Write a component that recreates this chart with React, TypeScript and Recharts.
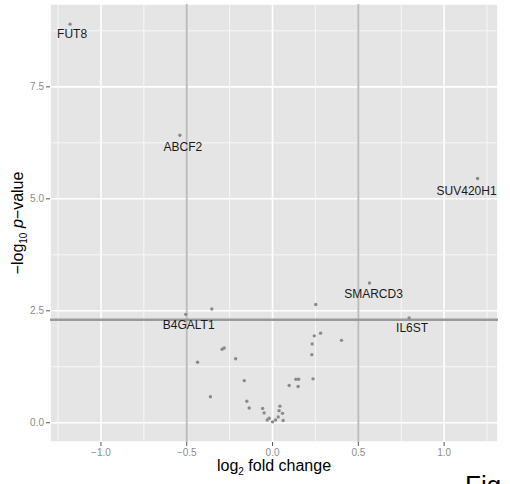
import type { FC } from 'react';
import {
    ScatterChart, Scatter, XAxis, YAxis, CartesianGrid, ReferenceLine
} from 'recharts';

// volcano plot data: log2 fold change vs -log10 p-value
const GENE = [
    'FUT8', 'ABCF2', 'SUV420H1', 'B4GALT1', 'SMARCD3', 'IL6ST',
    '', '', '', '', '', '', '', '', '', '', '', '', '', '', '',
    '', '', '', '', '', '', '', '', '', '', '', '', '', '', '',
];
const LOG2FC = [
    -1.18, -0.54, 1.195, -0.506, 0.565, 0.796,
    -0.354, 0.252, 0.28, 0.243, 0.231, 0.229, 0.402, 0.236, 0.136, 0.152,
    0.097, 0.149, -0.294, -0.282, -0.437, -0.215, -0.165, -0.362, -0.15,
    -0.136, -0.058, -0.049, -0.031, -0.02, 0.0, 0.017, 0.033, 0.043, 0.038, 0.058,
    0.062,
];
const NEG_LOG10_P = [
    8.9, 6.42, 5.455, 2.42, 3.12, 2.34,
    2.54, 2.64, 2.0, 1.94, 1.76, 1.52, 1.84, 0.98, 0.97, 0.97,
    0.83, 0.81, 1.64, 1.67, 1.35, 1.43, 0.94, 0.58, 0.48,
    0.33, 0.32, 0.22, 0.06, 0.1, 0.02, 0.06, 0.13, 0.37, 0.27, 0.21,
    0.05,
];

const X_TICKS = [-1, -0.5, 0, 0.5, 1];
const Y_TICKS = [0, 2.5, 5, 7.5];
const X_MINOR = [-1.25, -0.75, -0.25, 0.25, 0.75, 1.25];
const Y_MINOR = [1.25, 3.75, 6.25, 8.75];
const FC_CUTOFF = [-0.5, 0.5];
const P_CUTOFF = 2.3;

// label nudges (px) so text sits under its point like ggrepel did
const NUDGE: Record<string, [number, number]> = {
    FUT8: [2, 10], ABCF2: [3, 12], SUV420H1: [-11, 13],
    B4GALT1: [3, 11], SMARCD3: [4, 11], IL6ST: [3, 10],
};

const data = LOG2FC.map((x, i) => ({ x, y: NEG_LOG10_P[i], gene: GENE[i] }));

const FONT = '"Liberation Sans", Arial, Helvetica, sans-serif';

const Dot: FC<any> = ({ cx, cy, payload }) => {
    const n = NUDGE[payload.gene];
    return (
        <g>
            <circle cx={cx} cy={cy} r={1.7} fill="#8a8a8a" />
            {payload.gene && n && (
                <text
                    x={cx + n[0]} y={cy + n[1]} textAnchor="middle" dominantBaseline="central"
                    fontFamily={FONT} fontSize={12} fill="#1a1a1a"
                >
                    {payload.gene}
                </text>
            )}
        </g>
    );
};

const XTitle: FC<any> = ({ viewBox }) => (
    <text x={viewBox.x + viewBox.width / 2} y={471} textAnchor="middle" fontFamily={FONT} fontSize={16} fill="#000">
        log<tspan fontSize={10} dy={4}>2</tspan><tspan dy={-4}> fold change</tspan>
    </text>
);

const YTitle: FC<any> = ({ viewBox }) => {
    const cx = 23;
    const cy = viewBox.y + viewBox.height / 2;
    return (
        <text x={cx} y={cy} textAnchor="middle" fontFamily={FONT} fontSize={16} fill="#000" transform={`rotate(-90 ${cx} ${cy})`}>
            −log<tspan fontSize={10} dy={4}>10</tspan><tspan dy={-4}> </tspan><tspan fontStyle="italic">p</tspan>−value
        </text>
    );
};

export default function App() {
    return (
        <div style={{ position: 'fixed', left: 0, top: 0, width: 510, height: 484, overflow: 'hidden', background: '#fff' }}>
            <ScatterChart width={510} height={484} margin={{ top: 4, right: 12, bottom: 0, left: 0 }}>
                <CartesianGrid fill="#e5e5e5" stroke="#ffffff" strokeWidth={1.6} />
                <CartesianGrid
                    fill="none" stroke="#f7f7f7" strokeWidth={1}
                    {...({ verticalValues: X_MINOR, horizontalValues: Y_MINOR } as any)}
                />
                <XAxis
                    type="number" dataKey="x" domain={[-1.297, 1.314]} ticks={X_TICKS} allowDataOverflow
                    axisLine={false} tickLine={{ stroke: '#555' }} tickSize={4} tickMargin={3}
                    tick={{ fontSize: 10, fill: '#8c8c8c', fontFamily: FONT }} height={42}
                    tickFormatter={(v: number) => (v < 0 ? '−' : '') + Math.abs(v).toFixed(1)}
                    label={{ content: <XTitle /> } as any}
                />
                <YAxis
                    type="number" dataKey="y" domain={[-0.43, 9.35]} ticks={Y_TICKS} allowDataOverflow
                    axisLine={false} tickLine={{ stroke: '#555' }} tickSize={4} tickMargin={2}
                    tick={{ fontSize: 10, fill: '#8c8c8c', fontFamily: FONT }} width={50}
                    tickFormatter={(v: number) => v.toFixed(1)}
                    label={{ content: <YTitle /> } as any}
                />
                {FC_CUTOFF.map(v => (
                    <ReferenceLine key={`fc${v}`} x={v} stroke="#bdbdbd" strokeWidth={2} />
                ))}
                <ReferenceLine y={P_CUTOFF} stroke="#9a9a9a" strokeWidth={2.5} />
                <Scatter data={data} shape={<Dot />} isAnimationActive={false} />
            </ScatterChart>
            <div style={{ position: 'absolute', left: 465, top: 472, fontFamily: FONT, fontSize: 26, lineHeight: '26px', color: '#000', whiteSpace: 'nowrap' }}>
                Fig
            </div>
        </div>
    );
}
